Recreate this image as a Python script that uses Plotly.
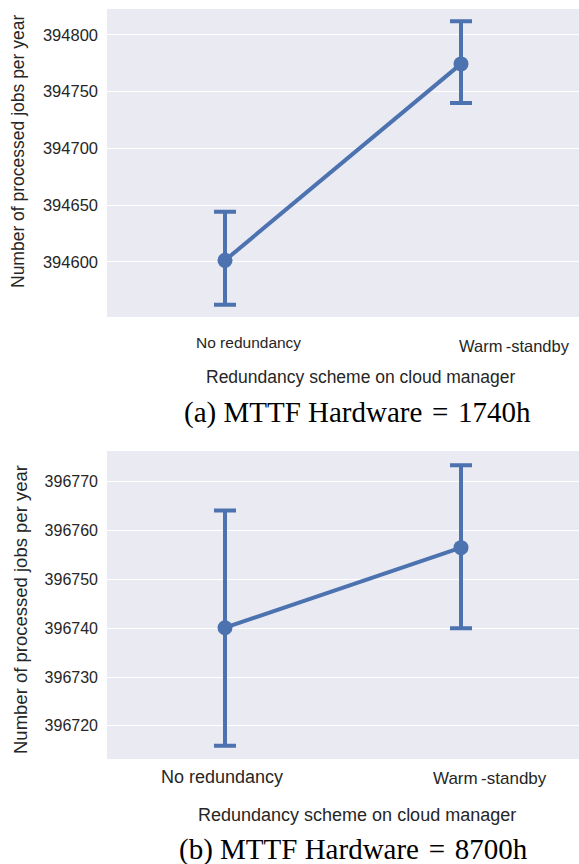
import plotly.graph_objects as go

# Redundancy schemes compared on the cloud manager
schemes = ["No redundancy", "Warm\u2009-standby"]
scheme_pos = [0, 1]

# (a) MTTF Hardware = 1740h : mean and 95% CI of processed jobs per year
mean_1740 = [394601.2, 394774.5]
ci_low_1740 = [394562.1, 394740.1]
ci_high_1740 = [394644.1, 394812.0]
yticks_1740 = [394600, 394650, 394700, 394750, 394800]

# (b) MTTF Hardware = 8700h
mean_8700 = [396740.1, 396756.5]
ci_low_8700 = [396715.9, 396740.0]
ci_high_8700 = [396764.1, 396773.4]
yticks_8700 = [396720, 396730, 396740, 396750, 396760, 396770]

W, H = 579, 864
BLUE = "#4C72B0"
BG = "#EAEAF2"
TXT = "#262626"
SANS = "Liberation Sans, Arial, sans-serif"
SERIF = "Liberation Serif, Times New Roman, serif"


def py(px):
    return 1 - px / H


def px_x(px):
    return px / W


fig = go.Figure()

for i, (mean, lo, hi) in enumerate([(mean_1740, ci_low_1740, ci_high_1740),
                                    (mean_8700, ci_low_8700, ci_high_8700)]):
    fig.add_trace(go.Scatter(
        x=scheme_pos, y=mean,
        mode="lines+markers",
        line=dict(color=BLUE, width=4),
        marker=dict(color=BLUE, size=15),
        error_y=dict(
            type="data", symmetric=False,
            array=[h - m for h, m in zip(hi, mean)],
            arrayminus=[m - l for m, l in zip(mean, lo)],
            color=BLUE, thickness=4, width=11,
        ),
        xaxis="x" if i == 0 else "x2",
        yaxis="y" if i == 0 else "y2",
        showlegend=False,
        hoverinfo="skip",
    ))

axis_x = dict(range=[-0.5, 1.5], showgrid=False, zeroline=False,
              showticklabels=False, ticks="", showline=False,
              domain=[px_x(107), 1.0])

axis_y_common = dict(showgrid=True, gridcolor="white", gridwidth=1.3,
                     zeroline=False, ticks="", showline=False,
                     ticklabelstandoff=8)

fig.update_layout(
    width=W, height=H,
    margin=dict(l=0, r=0, t=0, b=0),
    paper_bgcolor="white",
    plot_bgcolor=BG,
    xaxis=dict(axis_x, anchor="y"),
    xaxis2=dict(axis_x, anchor="y2"),
    yaxis=dict(axis_y_common, range=[394551.25, 394822.9],
               tickvals=yticks_1740, ticktext=[str(v) for v in yticks_1740],
               tickfont=dict(family=SANS, size=16.5, color=TXT),
               domain=[py(317), py(9)], anchor="x"),
    yaxis2=dict(axis_y_common, range=[396713.2, 396776.3],
                tickvals=yticks_8700, ticktext=[str(v) for v in yticks_8700],
                tickfont=dict(family=SANS, size=16, color=TXT),
                domain=[py(759), py(451)], anchor="x2"),
)

annotations = []


def label(text, x, y, size, family=SANS, color=TXT, angle=0):
    annotations.append(dict(
        text=text, x=px_x(x), y=py(y), xref="paper", yref="paper",
        xanchor="center", yanchor="middle", showarrow=False,
        textangle=angle, font=dict(family=family, size=size, color=color),
    ))


EQ = "\u2004=\u2004"

# panel (a)
label(schemes[0], 249, 343, 15.5)
label(schemes[1], 514, 346, 16.5)
label("Redundancy scheme on cloud manager", 361, 377, 17.5)
label("(a) MTTF Hardware" + EQ + "1740h", 357, 412, 29, family=SERIF, color="black")
label("Number of processed jobs per year", 18, 152, 17.5, angle=-90)

# panel (b)
label(schemes[0], 222, 777, 18)
label(schemes[1], 490, 778, 17)
label("Redundancy scheme on cloud manager", 357, 815, 18)
label("(b) MTTF Hardware" + EQ + "8700h", 353, 849, 29, family=SERIF, color="black")
label("Number of processed jobs per year", 20, 610, 18.5, angle=-90)

fig.update_layout(annotations=annotations)

fig.write_html("out.html")
